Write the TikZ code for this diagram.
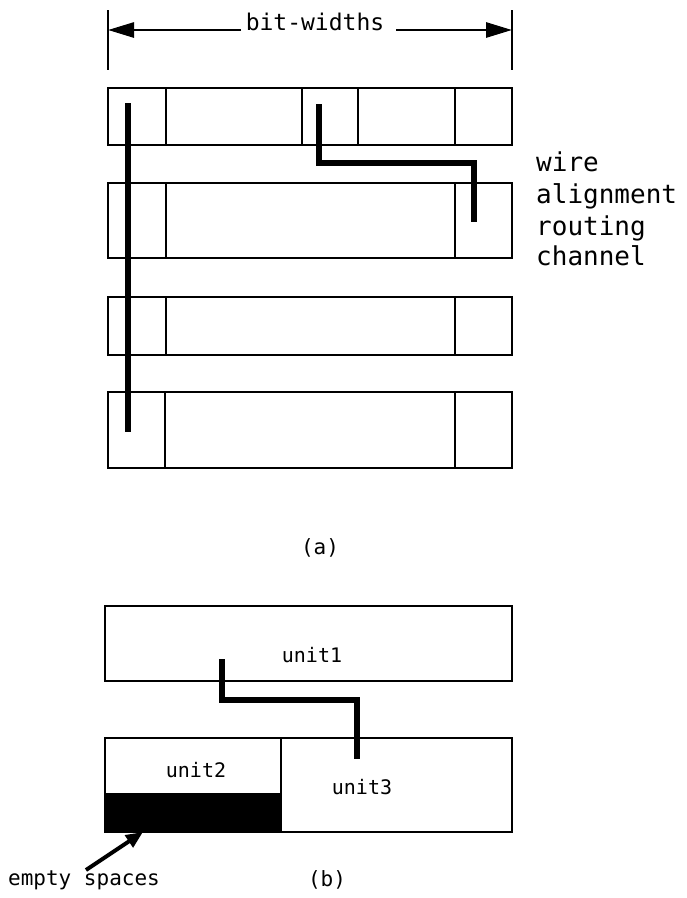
\documentclass[tikz,border=0pt]{standalone}
\usepackage{fontspec}
\setmonofont{DejaVu Sans Mono}
\usetikzlibrary{arrows.meta}
\begin{document}
\begin{tikzpicture}[x=1pt,y=-1pt,
  box/.style={draw,line width=2.6pt},
  wire/.style={line width=5.5pt},
  dimline/.style={line width=2.8pt},
  lbl/.style={font=\ttfamily\fontsize{21}{25}\selectfont, inner sep=0pt},
  unitlbl/.style={font=\ttfamily\fontsize{20}{24}\selectfont, inner sep=0pt},
  side/.style={font=\ttfamily\fontsize{26}{31}\selectfont, inner sep=0pt, anchor=base west},
]
\useasboundingbox[fill=white] (0,0) rectangle (687,898);

% dimension line
\draw[dimline] (108,10) -- (108,70);
\draw[dimline] (512,10) -- (512,70);
\node[lbl,font=\ttfamily\fontsize{23}{27}\selectfont] (bw) at (315,22) {bit-widths};
\coordinate (dl) at (108,30);
\coordinate (dr) at (512,30);
\draw[dimline,-{Triangle[length=26pt,width=15pt]}] (241,30) -- (dl);
\draw[dimline,-{Triangle[length=26pt,width=15pt]}] (396,30) -- (dr);

% rows
\draw[box] (108,88) rectangle (512,145);
\foreach \x in {166,302,358,455} \draw[box] (\x,88) -- (\x,145);
\draw[box] (108,183) rectangle (512,258);
\foreach \x in {166,455} \draw[box] (\x,183) -- (\x,258);
\draw[box] (108,297) rectangle (512,355);
\foreach \x in {166,455} \draw[box] (\x,297) -- (\x,355);
\draw[box] (108,392) rectangle (512,468);
\foreach \x in {165,455} \draw[box] (\x,392) -- (\x,468);

% wires
\coordinate (w1a) at (128,103);
\coordinate (w1b) at (128,432);
\draw[wire] (w1a) -- (w1b);
\coordinate (w2a) at (319,104);
\coordinate (w2b) at (474,222);
\draw[wire] (w2a) -- (319,163) -| (w2b);

% side labels
\node[side] (t1) at (536,171) {wire};
\node[side] (t2) at (536,203) {alignment};
\node[side] (t3) at (536,235) {routing};
\node[side] (t4) at (536,265) {channel};

\node[lbl] (la) at (320,548) {(a)};

% part b
\draw[box] (105,606) rectangle (512,681);
\node[unitlbl] (u1) at (312,655) {unit1};
\fill (105,793) rectangle (281,832);
\draw[box] (105,738) rectangle (512,832);
\draw[box] (281,738) -- (281,832);
\node[unitlbl] (u2) at (196,770) {unit2};
\node[unitlbl] (u3) at (362,787) {unit3};
\coordinate (w3a) at (222,659);
\coordinate (w3b) at (357,759);
\draw[wire] (w3a) -- (222,700) -| (w3b);

\node[lbl] (es) at (84,880) {empty spaces};
\coordinate (ah) at (143,832);
\draw[line width=4pt,-{Triangle[length=17pt,width=14pt]}] (86,870) -- (ah);
\node[lbl] (lb) at (327,880) {(b)};
\end{tikzpicture}
\end{document}
